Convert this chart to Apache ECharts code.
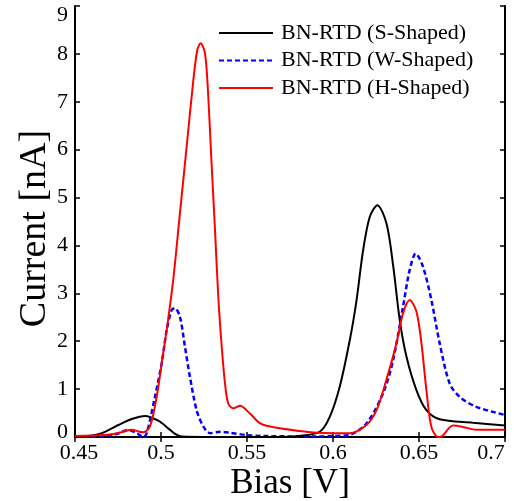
<!DOCTYPE html>
<html>
<head>
<meta charset="utf-8">
<script src="https://cdn.jsdelivr.net/npm/echarts@6/dist/echarts.min.js"></script>
<style>html,body{margin:0;padding:0;background:#fff;}#c{width:514px;height:501px;}</style>
</head>
<body>
<div id="c"></div>
<script>
// ---- data ----
var seriesNames = ['BN-RTD (S-Shaped)', 'BN-RTD (W-Shaped)', 'BN-RTD (H-Shaped)'];
var xTickLabels = ['0.45', '0.5', '0.55', '0.6', '0.65', '0.7'];
var yTickLabels = ['0', '1', '2', '3', '4', '5', '6', '7', '8', '9'];

var sBias = [0.45, 0.458, 0.4656, 0.4752, 0.483, 0.4907, 0.4984, 0.5042, 0.508, 0.512, 0.53, 0.57, 0.58, 0.5923, 0.5981, 0.6039, 0.6098, 0.6137, 0.6175, 0.6214, 0.6258, 0.6311, 0.6349, 0.6388, 0.6427, 0.6485, 0.6543, 0.662, 0.6814, 0.7];
var sCurrent = [0, 0.02, 0.08, 0.25, 0.375, 0.44, 0.34, 0.18, 0.07, 0.01, 0, 0, 0.02, 0.11, 0.42, 1.05, 2.03, 2.86, 3.9, 4.6, 4.84, 4.46, 3.6, 2.44, 1.68, 0.98, 0.56, 0.37, 0.30, 0.24];

var wBias = [0.45, 0.465, 0.474, 0.481, 0.486, 0.4897, 0.4917, 0.4965, 0.5004, 0.5033, 0.5062, 0.5081, 0.511, 0.5139, 0.5168, 0.5207, 0.5246, 0.5285, 0.5343, 0.54, 0.55, 0.56, 0.59, 0.6, 0.61, 0.6194, 0.6291, 0.6349, 0.6407, 0.6446, 0.6481, 0.6523, 0.6572, 0.662, 0.6678, 0.6736, 0.6833, 0.7];
var wCurrent = [0, 0.01, 0.06, 0.146, 0.08, 0.0, 0.08, 0.84, 1.54, 2.23, 2.65, 2.69, 2.51, 1.89, 1.26, 0.56, 0.22, 0.08, 0.11, 0.09, 0.04, 0.02, 0.01, 0.02, 0.05, 0.28, 0.91, 1.6, 2.72, 3.49, 3.83, 3.56, 2.86, 1.96, 1.12, 0.84, 0.63, 0.46];

var hBias = [0.45, 0.46, 0.47, 0.477, 0.483, 0.4875, 0.4897, 0.4936, 0.4975, 0.5004, 0.5033, 0.5071, 0.511, 0.5149, 0.5188, 0.5211, 0.523, 0.5256, 0.5275, 0.5294, 0.5314, 0.5333, 0.5353, 0.5372, 0.5391, 0.542, 0.5459, 0.5517, 0.5575, 0.5633, 0.5807, 0.5904, 0.6, 0.6097, 0.6194, 0.6253, 0.631, 0.6369, 0.6407, 0.6446, 0.6485, 0.6514, 0.6543, 0.6572, 0.661, 0.6635, 0.6698, 0.6756, 0.6833, 0.7];
var hCurrent = [0.02, 0.03, 0.05, 0.1, 0.15, 0.11, 0.1, 0.22, 0.84, 1.54, 2.23, 3.28, 4.67, 6.06, 7.45, 8.08, 8.22, 8.01, 7.1, 5.71, 4.32, 2.93, 1.89, 1.12, 0.70, 0.6, 0.65, 0.49, 0.29, 0.22, 0.125, 0.09, 0.08, 0.08, 0.25, 0.56, 1.19, 1.96, 2.58, 2.86, 2.62, 1.96, 0.98, 0.21, 0, 0.02, 0.24, 0.21, 0.15, 0.15];

function pairs(xs, ys) { return xs.map(function (x, i) { return [x, ys[i]]; }); }

var FONT = "'Liberation Serif', 'DejaVu Serif', serif";
var chart = echarts.init(document.getElementById('c'), null, { renderer: 'canvas' });

var lblBase = { fontSize: 22, fontFamily: FONT, color: '#000' };
function rich(extra) { return Object.assign({}, lblBase, extra); }

var axisLine = { show: true, lineStyle: { color: '#000', width: 2 } };
var tick = { show: true, inside: true, length: 5, lineStyle: { color: '#000', width: 1.5 } };

var option = {
  animation: false,
  backgroundColor: '#fff',
  grid: { left: 75, right: 9, top: 6, bottom: 64, containLabel: false, outerBoundsMode: 'none' },
  legend: {
    orient: 'vertical',
    left: 218, top: 22, padding: 0,
    itemWidth: 54, itemHeight: 14, itemGap: 5.5,
    itemStyle: { opacity: 0 },
    textStyle: { fontSize: 22, fontFamily: FONT, color: '#000', lineHeight: 22, padding: [0, 0, 0, 3] },
    data: seriesNames
  },
  xAxis: [{
    type: 'value', min: 0.45, max: 0.7, interval: 0.05, position: 'bottom',
    axisLine: axisLine, axisTick: tick, splitLine: { show: false },
    name: 'Bias [V]', nameLocation: 'middle', nameGap: 29, nameMoveOverlap: false,
    nameTextStyle: { fontSize: 35, fontFamily: FONT, color: '#000' },
    axisLabel: {
      margin: 5, color: '#000', fontSize: 22, fontFamily: FONT,
      formatter: function (v) {
        var i = Math.round((v - 0.45) / 0.05);
        var t = xTickLabels[i];
        if (i === 0) return '{f|' + t + '}';
        if (i === xTickLabels.length - 1) return '{l|' + t + '}';
        return '{n|' + t + '}';
      },
      rich: { n: rich({}), f: rich({ padding: [0, 0, 0, 8] }), l: rich({ padding: [0, 28, 0, 0] }) }
    }
  }, {
    type: 'value', min: 0.45, max: 0.7, interval: 0.05, position: 'top',
    axisLine: axisLine, axisTick: tick, axisLabel: { show: false }, splitLine: { show: false }
  }],
  yAxis: [{
    type: 'value', min: 0, max: 9, interval: 1, position: 'left',
    axisLine: axisLine, axisTick: tick, splitLine: { show: false },
    name: 'Current [nA]', nameLocation: 'middle', nameGap: 21, nameMoveOverlap: false,
    nameTextStyle: { fontSize: 38, fontFamily: FONT, color: '#000', padding: [0, 14, 0, 0] },
    axisLabel: {
      margin: 7, color: '#000', fontSize: 22, fontFamily: FONT,
      formatter: function (v) {
        var i = Math.round(v);
        var t = yTickLabels[i];
        if (i === 0) return '{f|' + t + '}';
        if (i === yTickLabels.length - 1) return '{l|' + t + '}';
        return '{n|' + t + '}';
      },
      rich: { n: rich({}), f: rich({ padding: [0, 0, 10, 0] }), l: rich({ padding: [18, 0, 0, 0] }) }
    }
  }, {
    type: 'value', min: 0, max: 9, interval: 1, position: 'right',
    axisLine: axisLine, axisTick: tick, axisLabel: { show: false }, splitLine: { show: false }
  }],
  series: [{
    name: seriesNames[0], type: 'line', symbol: 'none', smooth: 0.3, clip: true,
    data: pairs(sBias, sCurrent),
    lineStyle: { color: '#000000', width: 2 }, itemStyle: { color: '#000000' }, z: 3
  }, {
    name: seriesNames[1], type: 'line', symbol: 'none', smooth: 0.3, clip: true,
    data: pairs(wBias, wCurrent),
    lineStyle: { color: '#0000ff', width: 2.5, type: [5, 3] }, itemStyle: { color: '#0000ff' }, z: 2
  }, {
    name: seriesNames[2], type: 'line', symbol: 'none', smooth: 0.3, clip: true,
    data: pairs(hBias, hCurrent),
    lineStyle: { color: '#ff0000', width: 2 }, itemStyle: { color: '#ff0000' }, z: 4
  }]
};
chart.setOption(option);
</script>
</body>
</html>
